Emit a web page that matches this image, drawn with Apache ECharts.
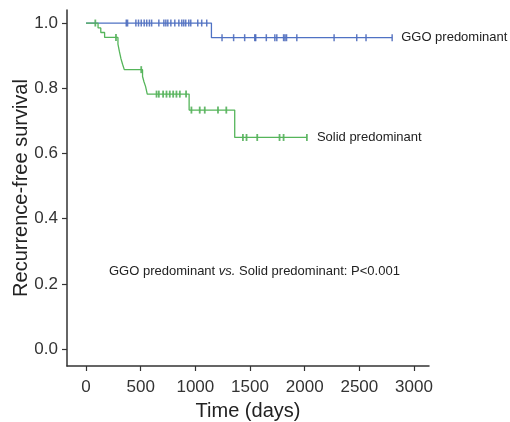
<!DOCTYPE html>
<html>
<head>
<meta charset="utf-8">
<script src="https://cdn.jsdelivr.net/npm/echarts@6/dist/echarts.min.js"></script>
<style>
html,body{margin:0;padding:0;background:#fff;}
#chart{width:510px;height:422px;}
</style>
</head>
<body>
<div id="chart"></div>
<script>
// ---- Data ----
const xTicks = [0, 500, 1000, 1500, 2000, 2500, 3000];
const yTicks = [0, 0.2, 0.4, 0.6, 0.8, 1.0];

const ggoName = 'GGO predominant';
const ggoEventTimes = [1147];
const ggoEventSurv = [0.955];
const ggoEnd = 2800;
const ggoCensor = [368, 380, 456, 480, 505, 532, 555, 580, 600, 666, 712, 730, 748, 776, 812, 849, 876, 894, 912, 940, 958, 1022, 1058, 1104,
  1244, 1350, 1451, 1543, 1552, 1649, 1727, 1745, 1807, 1820, 1834, 1928, 2269, 2476, 2561, 2800];

const solidName = 'Solid predominant';
const solidEventTimes = [110, 135, 170, 292, 305, 320, 335, 350, 517, 530, 545, 560, 943, 1360];
const solidEventSurv = [0.985, 0.971, 0.956, 0.935, 0.913, 0.890, 0.873, 0.857, 0.836, 0.820, 0.805, 0.782, 0.733, 0.649];
const solidEnd = 2020;
const solidCensor = [85, 274, 505, 645, 666, 705, 736, 766, 797, 827, 858, 915, 964, 1040, 1086, 1207, 1283, 1435, 1468, 1566, 1770, 1807, 2020];

// ---- Build step curves ----
function stepData(times, surv, end) {
  const d = [[0, 1]];
  for (let i = 0; i < times.length; i++) d.push([times[i], surv[i]]);
  d.push([end, surv.length ? surv[surv.length - 1] : 1]);
  return d;
}
function survAt(t, times, surv) {
  let s = 1;
  for (let i = 0; i < times.length; i++) if (times[i] <= t) s = surv[i];
  return s;
}
function censorData(cens, times, surv) {
  return cens.map(t => [t, survAt(t, times, surv)]);
}

const blue = '#4f72c4', blueMark = '#3a5ab4';
const green = '#55b55a', greenMark = '#3fa646';
const font = '"Liberation Sans", Arial, Helvetica, sans-serif';

const chart = echarts.init(document.getElementById('chart'), null, {renderer: 'canvas'});
chart.setOption({
  animation: false,
  backgroundColor: '#fff',
  grid: {left: 67, right: 81, top: 10, bottom: 56, containLabel: false, outerBoundsMode: 'none'},
  xAxis: {
    type: 'value', min: -174, max: 3137,
    name: 'Time (days)', nameLocation: 'middle', nameGap: 35, nameMoveOverlap: false,
    nameTextStyle: {fontFamily: font, fontSize: 20, color: '#222'},
    axisLine: {show: true, onZero: false, lineStyle: {color: '#333', width: 1.5}},
    axisTick: {show: true, length: 5, customValues: xTicks, lineStyle: {color: '#333', width: 1.2}},
    axisLabel: {customValues: xTicks, fontFamily: font, fontSize: 17, color: '#333', margin: 13,
      formatter: v => String(v)},
    splitLine: {show: false}
  },
  yAxis: {
    type: 'value', min: -0.052, max: 1.04,
    name: 'Recurrence-free survival', nameLocation: 'middle', nameGap: 36, nameMoveOverlap: false,
    nameTextStyle: {fontFamily: font, fontSize: 20, color: '#222'},
    axisLine: {show: true, onZero: false, lineStyle: {color: '#333', width: 1.5}},
    axisTick: {show: true, length: 5, customValues: yTicks, lineStyle: {color: '#333', width: 1.2}},
    axisLabel: {customValues: yTicks, fontFamily: font, fontSize: 17, color: '#333', margin: 9,
      formatter: v => v.toFixed(1)},
    splitLine: {show: false}
  },
  series: [
    {
      name: ggoName, type: 'line', step: 'end', showSymbol: false, symbol: 'none',
      data: stepData(ggoEventTimes, ggoEventSurv, ggoEnd),
      lineStyle: {color: blue, width: 1.3}, itemStyle: {color: blue},
      endLabel: {show: true, formatter: ggoName, fontFamily: font, fontSize: 13, color: '#222', distance: 9}
    },
    {
      name: solidName, type: 'line', step: 'end', showSymbol: false, symbol: 'none',
      data: stepData(solidEventTimes, solidEventSurv, solidEnd),
      lineStyle: {color: green, width: 1.3}, itemStyle: {color: green},
      endLabel: {show: true, formatter: solidName, fontFamily: font, fontSize: 13, color: '#222', distance: 10}
    },
    {
      type: 'scatter', symbol: 'rect', symbolSize: [1.5, 7],
      data: censorData(ggoCensor, ggoEventTimes, ggoEventSurv),
      itemStyle: {color: blueMark}, silent: true
    },
    {
      type: 'scatter', symbol: 'rect', symbolSize: [1.8, 7],
      data: censorData(solidCensor, solidEventTimes, solidEventSurv),
      itemStyle: {color: greenMark}, silent: true
    }
  ],
  graphic: [{
    type: 'text', left: 109, top: 265,
    style: {
      text: '{a|GGO predominant }{b|vs.}{a| Solid predominant: P<0.001}',
      rich: {
        a: {fontFamily: font, fontSize: 13, fill: '#222'},
        b: {fontFamily: font, fontSize: 13, fontStyle: 'italic', fill: '#222'}
      }
    }
  }]
});
</script>
</body>
</html>
